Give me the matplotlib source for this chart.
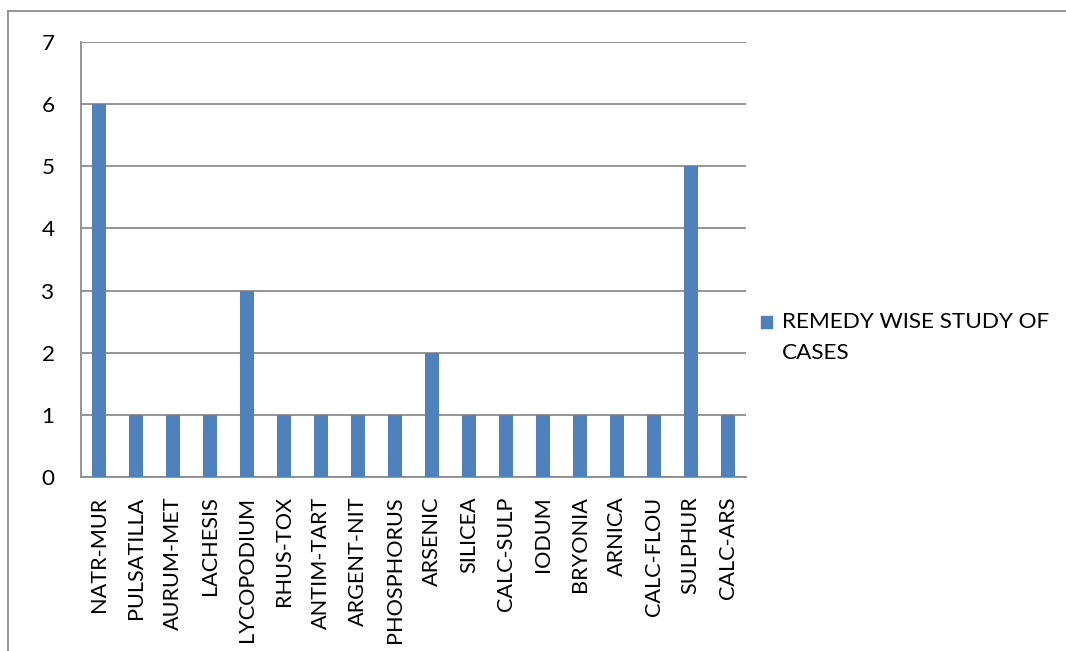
import matplotlib.pyplot as plt
from matplotlib.lines import Line2D
from matplotlib.patches import Rectangle

remedies = ["NATR-MUR", "PULSATILLA", "AURUM-MET", "LACHESIS", "LYCOPODIUM",
            "RHUS-TOX", "ANTIM-TART", "ARGENT-NIT", "PHOSPHORUS", "ARSENIC",
            "SILICEA", "CALC-SULP", "IODUM", "BRYONIA", "ARNICA", "CALC-FLOU",
            "SULPHUR", "CALC-ARS"]
cases = [6, 1, 1, 1, 3, 1, 1, 1, 1, 2, 1, 1, 1, 1, 1, 1, 5, 1]
series_name = "REMEDY WISE STUDY OF\nCASES"

plt.rcParams['font.family'] = ['Lato', 'DejaVu Sans']
BAR = "#4F81BD"
GRID = "#8c8c8c"
FS = 16.2

W, H = 1066, 651
fig = plt.figure(figsize=(W / 100, H / 100), dpi=100)
ax = fig.add_axes([81 / W, 1 - 477 / H, (746 - 81) / W, (477 - 42) / H])

x = list(range(len(remedies)))
ax.bar(x, cases, width=0.38, color=BAR, zorder=3)

ax.set_xlim(-0.5, len(remedies) - 0.5)
ax.set_ylim(0, 7)
ax.set_yticks(range(0, 8))
ax.set_xticks(x)
ax.set_xticklabels(remedies, rotation=90, fontsize=15.6)
ax.tick_params(axis='y', labelsize=FS, length=0, pad=19)
ax.tick_params(axis='x', length=0, pad=14)
ax.grid(axis='y', color=GRID, linewidth=1.3, zorder=0)

for s in ax.spines.values():
    s.set_color(GRID)
    s.set_linewidth(1.3)
ax.spines['right'].set_visible(False)
ax.spines['top'].set_visible(False)

# legend: square key next to a two-line label
fig.add_artist(Rectangle((761 / W, 1 - 328 / H), 11 / W, 12 / H,
                         transform=fig.transFigure, color=BAR))
fig.text(782 / W, 1 - 312 / H, series_name, fontsize=FS, va='top', ha='left',
         linespacing=1.7)

# outer chart-area frame
fig.add_artist(Line2D([8 / W, 8 / W], [0, 1 - 11 / H], transform=fig.transFigure,
                      color=GRID, linewidth=1.3))
fig.add_artist(Line2D([8 / W, 1], [1 - 11 / H, 1 - 11 / H], transform=fig.transFigure,
                      color=GRID, linewidth=1.3))

fig.savefig("out.png", dpi=100)
